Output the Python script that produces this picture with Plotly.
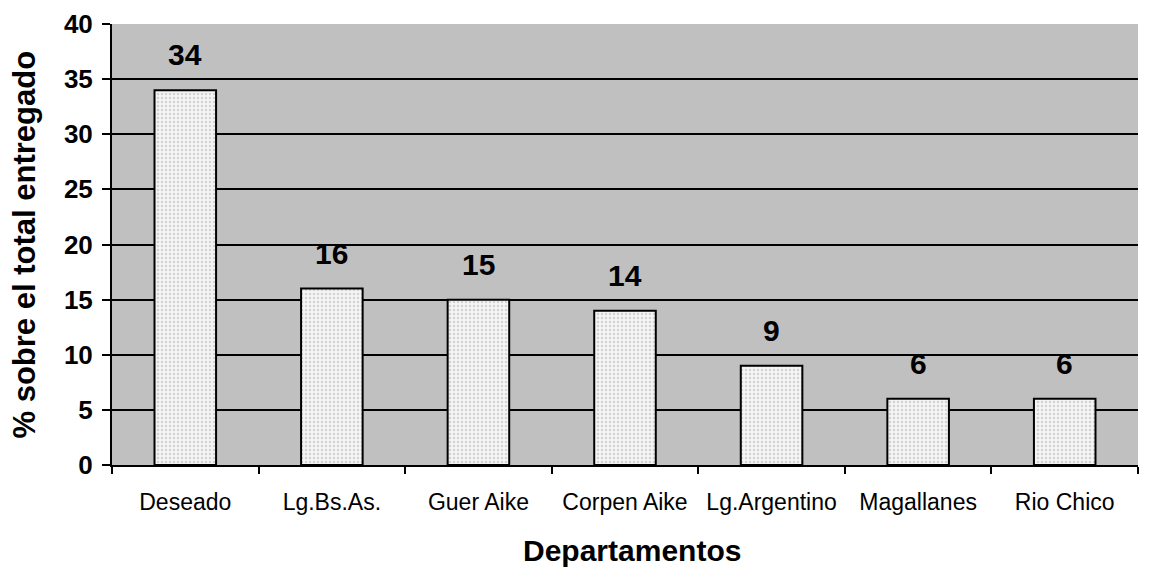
import plotly.graph_objects as go

categories = ["Deseado", "Lg.Bs.As.", "Guer Aike", "Corpen Aike", "Lg.Argentino", "Magallanes", "Rio Chico"]
values = [34, 16, 15, 14, 9, 6, 6]
y_ticks = [0, 5, 10, 15, 20, 25, 30, 35, 40]

FONT = "Liberation Sans, Arial, sans-serif"

fig = go.Figure()
fig.add_trace(go.Bar(
    x=categories, y=values, width=0.42,
    marker=dict(color="white", line=dict(color="black", width=2),
                pattern=dict(shape=".", fgcolor="#b0b0b0", bgcolor="#f4f4f4", size=4, solidity=0.3)),
    showlegend=False,
))
for c, v in zip(categories, values):
    fig.add_annotation(x=c, y=v, text=f"<b>{v}</b>", showarrow=False, yanchor="bottom",
                       yshift=17, font=dict(family=FONT, size=30, color="black"))

# axis titles as annotations for exact placement
fig.add_annotation(x=0, y=0.5, xref="paper", yref="paper", text="<b>% sobre el total entregado</b>",
                   textangle=-90, showarrow=False, xanchor="center", yanchor="middle", xshift=-88,
                   font=dict(family=FONT, size=31, color="black"))
fig.add_annotation(x=0.5, y=0, xref="paper", yref="paper", text="<b>Departamentos</b>",
                   showarrow=False, xanchor="center", yanchor="middle", xshift=7, yshift=-85,
                   font=dict(family=FONT, size=30, color="black"))

fig.update_layout(
    width=1148, height=561,
    margin=dict(l=104, r=18, t=16, b=104),
    paper_bgcolor="white", plot_bgcolor="#c0c0c0",
    font=dict(family=FONT, color="black"),
)
fig.update_xaxes(
    showline=True, linecolor="black", linewidth=2, ticks="outside", tickson="boundaries",
    ticklen=7, tickwidth=2, tickcolor="black", tickfont=dict(size=23), showgrid=False,
    ticklabelstandoff=15, automargin=False,
)
fig.update_yaxes(
    range=[0, 40], tickvals=y_ticks, ticktext=[f"<b>{t}</b>" for t in y_ticks],
    showline=True, linecolor="black", linewidth=2, ticks="outside", ticklen=8, tickwidth=2,
    tickcolor="black", tickfont=dict(size=26), showgrid=True, gridcolor="black", gridwidth=2,
    zeroline=False, ticklabelstandoff=4, automargin=False,
)
fig.write_html("out.html")
